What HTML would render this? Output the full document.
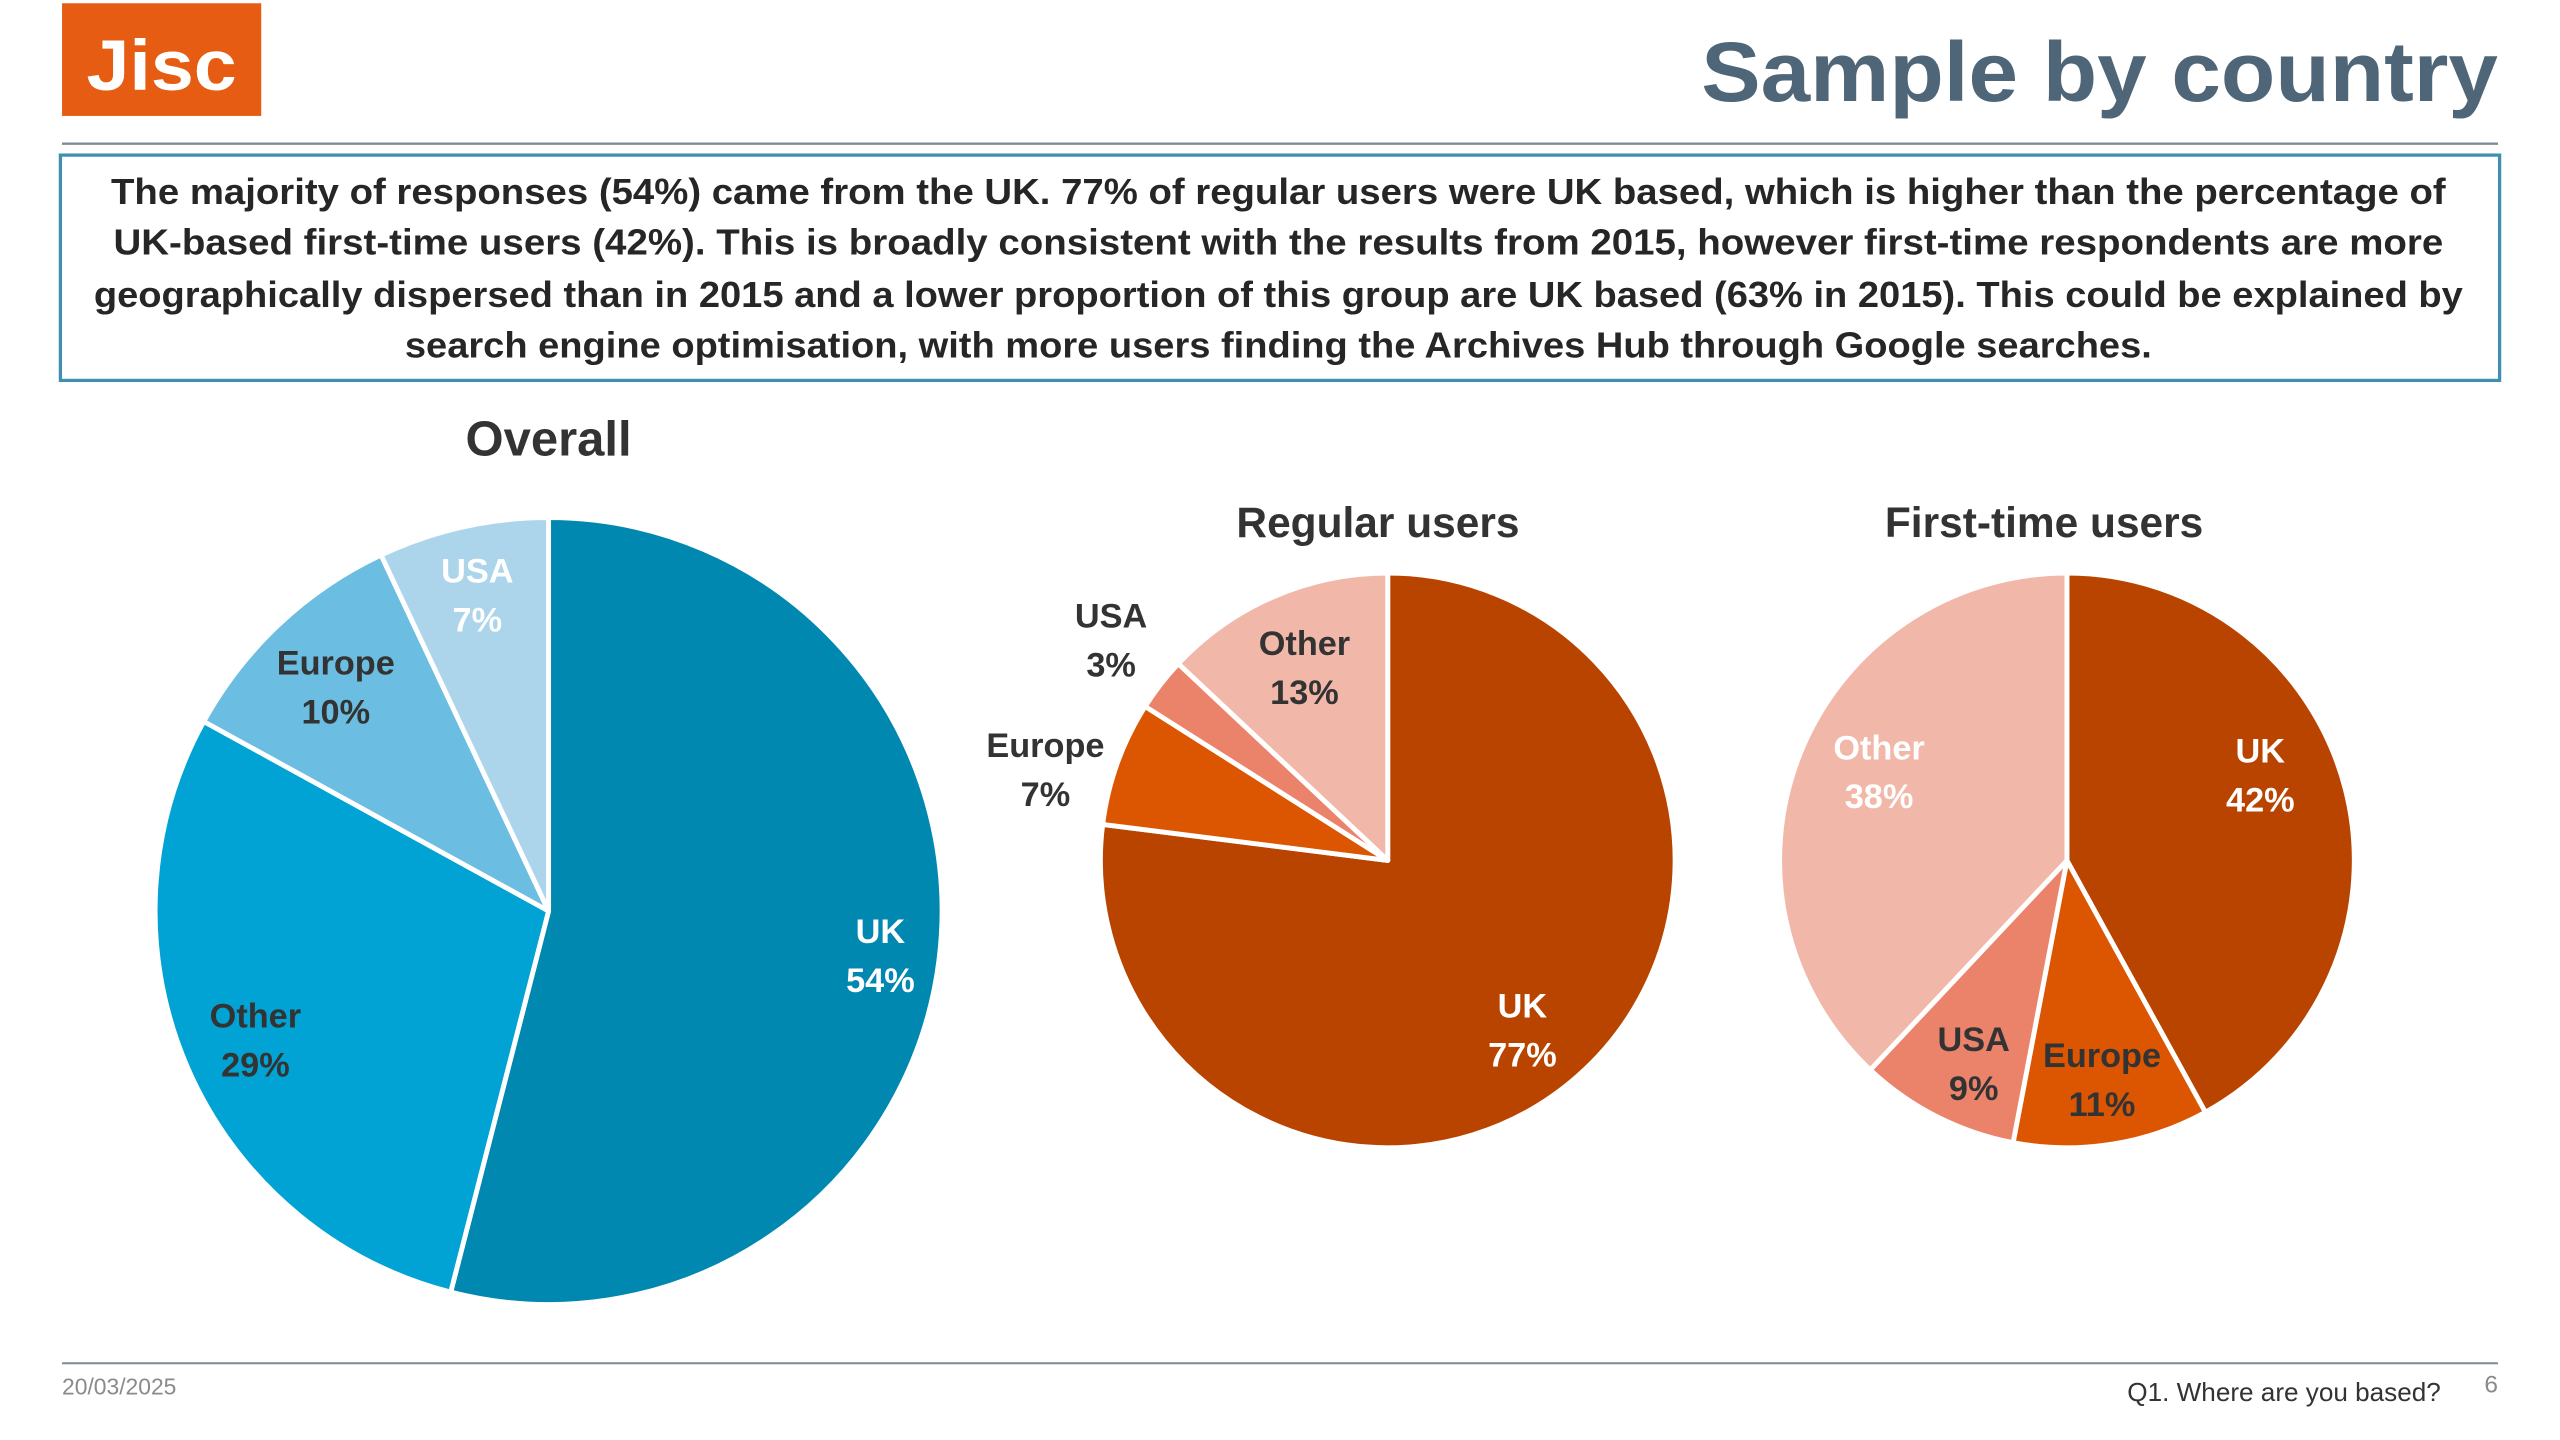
<!DOCTYPE html>
<html><head><meta charset="utf-8">
<style>
html,body{margin:0;padding:0;background:#fff;}
svg{display:block;font-family:"Liberation Sans",sans-serif;}
</style></head>
<body>
<svg id="slide" width="2560" height="1440" viewBox="0 0 1568 882" xmlns="http://www.w3.org/2000/svg">
  <g>
    <rect x="38" y="2" width="122" height="69" fill="#e65c13"/>
    <text x="99" y="55" text-anchor="middle" font-size="44" font-weight="bold" fill="#fff" textLength="92" lengthAdjust="spacingAndGlyphs">Jisc</text>
  </g>
  <text x="1530" y="62" text-anchor="end" font-size="52" font-weight="bold" fill="#4f6679" textLength="488" lengthAdjust="spacingAndGlyphs">Sample by country</text>
  <line x1="38" y1="88" x2="1530" y2="88" stroke="#7f8c96" stroke-width="1.5"/>
  <g>
    <rect x="37" y="95" width="1494" height="138" fill="#fff" stroke="#3f8fb0" stroke-width="2"/>
    <g font-size="22" font-weight="bold" fill="#262626" text-anchor="middle">
      <text x="783" y="125" textLength="1430" lengthAdjust="spacingAndGlyphs">The majority of responses (54%) came from the UK.  77% of regular users were UK based, which is higher than the percentage of</text>
      <text x="783" y="156" textLength="1427" lengthAdjust="spacingAndGlyphs">UK-based first-time users (42%).  This is broadly consistent with the results from 2015, however first-time respondents are more</text>
      <text x="783" y="188" textLength="1451" lengthAdjust="spacingAndGlyphs">geographically dispersed than in 2015 and a lower proportion of this group are UK based (63% in 2015).  This could be explained by</text>
      <text x="783" y="219" textLength="1070" lengthAdjust="spacingAndGlyphs">search engine optimisation, with more users finding the Archives Hub through Google searches.</text>
    </g>
  </g>
  <g id="charts"></g>
  <line x1="38" y1="835" x2="1530" y2="835" stroke="#7f8c96" stroke-width="1.2"/>
  <text x="38" y="854" font-size="14" fill="#8a8a8a">20/03/2025</text>
  <text x="1495" y="858" text-anchor="end" font-size="16" fill="#333">Q1. Where are you based?</text>
  <text x="1530" y="853" text-anchor="end" font-size="15" fill="#8a8a8a">6</text>
</svg>
<script>
const overallCategories = ["UK", "Other", "Europe", "USA"];
const overallValues = [54, 29, 10, 7];
const regularCategories = ["UK", "Europe", "USA", "Other"];
const regularValues = [77, 7, 3, 13];
const firstCategories = ["UK", "Europe", "USA", "Other"];
const firstValues = [42, 11, 9, 38];

const NS = "http://www.w3.org/2000/svg";
const root = document.getElementById("charts");

function drawPie(cfg) {
  const g = document.createElementNS(NS, "g");
  
  
  root.appendChild(g);
  const t = document.createElementNS(NS, "text");
  
  
  t.setAttribute("x", cfg.tx); t.setAttribute("y", cfg.ty);
  t.setAttribute("text-anchor", "middle");
  t.setAttribute("font-size", cfg.tsize); t.setAttribute("font-weight", "bold");
  t.setAttribute("fill", "#333");
  t.textContent = cfg.title;
  g.appendChild(t);
  const total = cfg.values.reduce((a, b) => a + b, 0);
  let acc = 0;
  cfg.values.forEach((v, i) => {
    const a0 = acc / total * 2 * Math.PI;
    acc += v;
    const a1 = acc / total * 2 * Math.PI;
    const pt = (a, r) => [cfg.cx + r * Math.sin(a), cfg.cy - r * Math.cos(a)];
    const p0 = pt(a0, cfg.r), p1 = pt(a1, cfg.r);
    const large = (a1 - a0) > Math.PI ? 1 : 0;
    const path = document.createElementNS(NS, "path");
    
    
    path.setAttribute("d", `M${cfg.cx},${cfg.cy} L${p0[0]},${p0[1]} A${cfg.r},${cfg.r} 0 ${large} 1 ${p1[0]},${p1[1]} Z`);
    path.setAttribute("fill", cfg.colors[i]);
    path.setAttribute("stroke", "#fff");
    path.setAttribute("stroke-width", "3");
    path.setAttribute("stroke-linejoin", "round");
    g.appendChild(path);
    const mid = (a0 + a1) / 2;
    const lp = pt(mid, cfg.r * cfg.lf[i]);
    lp[0] += cfg.ox[i]; lp[1] += cfg.oy[i];
    const lab = document.createElementNS(NS, "text");
    
    
    lab.setAttribute("text-anchor", "middle");
    lab.setAttribute("font-size", "21");
    lab.setAttribute("font-weight", "bold");
    lab.setAttribute("fill", cfg.lc[i]);
    const s1 = document.createElementNS(NS, "tspan");
    s1.setAttribute("x", lp[0]); s1.setAttribute("y", lp[1] - 6);
    s1.textContent = cfg.categories[i];
    const s2 = document.createElementNS(NS, "tspan");
    s2.setAttribute("x", lp[0]); s2.setAttribute("y", lp[1] + 24);
    s2.textContent = v + "%";
    lab.appendChild(s1); lab.appendChild(s2);
    g.appendChild(lab);
  });
}

drawPie({name: "overall-pie", title: "Overall", tx: 336, ty: 279, tsize: 30,
  cx: 336, cy: 558, r: 241, categories: overallCategories, values: overallValues,
  colors: ["#0088b0", "#00a3d3", "#6bbde1", "#acd5ec"],
  lc: ["#fff", "#333", "#333", "#fff"], lf: [0.85, 0.83, 0.79, 0.83],
  ox: [0, 4, 0, 0], oy: [0, -2, 0, 0]});
drawPie({name: "regular-pie", title: "Regular users", tx: 844, ty: 329, tsize: 26,
  cx: 850, cy: 527, r: 176, categories: regularCategories, values: regularValues,
  colors: ["#b84400", "#dc5500", "#eb836b", "#f1b8aa"],
  lc: ["#fff", "#333", "#333", "#333"], lf: [0.76, 1.23, 1.24, 0.73],
  ox: [-6, -6, 3, 0], oy: [2, 16, -3, -2]});
drawPie({name: "first-time-pie", title: "First-time users", tx: 1252, ty: 329, tsize: 26,
  cx: 1266, cy: 527, r: 176, categories: firstCategories, values: firstValues,
  colors: ["#b84400", "#dc5500", "#eb836b", "#f1b8aa"],
  lc: ["#fff", "#333", "#333", "#fff"], lf: [0.73, 0.78, 0.79, 0.74],
  ox: [-6, 0, 6, 6], oy: [-22, -3, -1, -8]});
</script>
</body></html>
